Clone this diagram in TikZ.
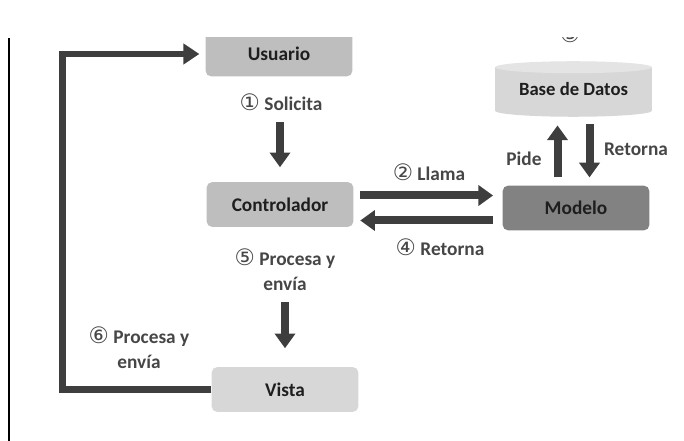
\documentclass[tikz,border=0pt]{standalone}
\usepackage{fontspec}
\setmainfont{Carlito}
\newfontfamily\circfont{DejaVu Sans}
\usetikzlibrary{arrows.meta,calc,backgrounds}
\definecolor{grisCaja}{RGB}{190,190,190}
\definecolor{grisModelo}{RGB}{130,130,130}
\definecolor{grisClaro}{RGB}{215,215,215}
\definecolor{grisTapa}{RGB}{228,228,228}
\definecolor{grisFlecha}{RGB}{62,62,62}
\definecolor{grisTexto}{RGB}{30,30,30}
\definecolor{grisEtiqueta}{RGB}{70,70,70}
\newcommand{\num}[1]{{\circfont\fontsize{17}{19}\selectfont\mdseries #1}}

\begin{document}
\begin{tikzpicture}[x=0.75pt,y=0.75pt,yscale=-1,xscale=1,
  caja/.style={rounded corners=4pt, inner sep=0pt, minimum width=110pt, minimum height=33.5pt, font=\bfseries\fontsize{14.5}{17}\selectfont, text=grisTexto},
  etiqueta/.style={inner sep=0.75pt, align=center, font=\bfseries\fontsize{14.5}{19}\selectfont, text=grisEtiqueta},
  flecha/.style={draw=grisFlecha, line width=6pt, -{Triangle[width=15pt,length=11pt]}},
  retorno/.style={draw=grisFlecha, line width=5pt, -{Triangle[width=15pt,length=12pt]}}]
\useasboundingbox (0,0) rectangle (684,441);
%Straight Lines
\draw [line width=1.5pt] (9,38) -- (9,441) ;

%Cut top of the picture
\begin{scope}
\clip (0,38) rectangle (684,441);
\node [caja, fill=grisCaja] (usuario) at (279,54) {Usuario};
\node [inner sep=0pt, text=grisEtiqueta] (tres) at (570,34) {\num{③}};
\end{scope}

%Boxes
\node [caja, fill=grisCaja] (controlador) at (280,204.5) {Controlador};
\node [caja, fill=grisModelo] (modelo) at (576,208) {Modelo};
\node [caja, fill=grisClaro] (vista) at (285,389.5) {Vista};
\node [inner sep=0pt, minimum width=117.75pt, minimum height=32.25pt, font=\bfseries\fontsize{14}{17}\selectfont, text=grisTexto] (bd) at (573.5,89) {Base de Datos};
%Shape: Can
\begin{scope}[on background layer]
\fill [grisClaro] (bd.north west) rectangle (bd.south east) ;
\fill [grisClaro] (bd.south) ellipse [x radius=58.9pt, y radius=4.5pt] ;
\fill [grisTapa] (bd.north) ellipse [x radius=58.9pt, y radius=4.5pt] ;
\end{scope}

% Text Node
\node [etiqueta] (solicita) at (281,102) {\num{①} Solicita};
\node [etiqueta] (llama) at (429,172) {\num{②} Llama};
\node [etiqueta] (retorna4) at (440,247) {\num{④} Retorna};
\node [etiqueta] (pide) at (524,159) {Pide};
\node [etiqueta] (retornaBD) at (636,149) {Retorna};
\node [etiqueta] (procesa5) at (285,270) {\num{⑤} Procesa y\\envía};
\node [etiqueta] (procesa6) at (139,348) {\num{⑥} Procesa y\\envía};

%Arrows
\draw [flecha, shorten <=34pt, shorten >=11pt] (controlador.north |- usuario.south) -- (controlador.north) ;
\coordinate (llamaFin) at ($(modelo.west)+(0,-12.5)$) ;
\coordinate (retornaIni) at ($(modelo.west)+(0,12.5)$) ;
\draw [flecha, shorten <=5pt, shorten >=7pt] (controlador.east |- llamaFin) -- (llamaFin) ;
\draw [flecha, shorten <=7pt, shorten >=5pt] (retornaIni) -- (controlador.east |- retornaIni) ;
\coordinate (pideX) at ($(bd.south)+(-16,0)$) ;
\coordinate (retX) at ($(bd.south)+(16,0)$) ;
\draw [flecha, shorten <=6pt, shorten >=11pt] (pideX |- modelo.north) -- (pideX) ;
\draw [flecha, shorten <=10pt, shorten >=6pt] (retX) -- (retX |- modelo.north) ;
\draw [flecha, shorten <=56pt, shorten >=14pt] (vista.north |- controlador.south) -- (vista.north) ;
\draw [retorno, shorten >=4.5pt] (vista.west) -- ++(-149,0) |- (usuario.west) ;
\end{tikzpicture}
\end{document}
